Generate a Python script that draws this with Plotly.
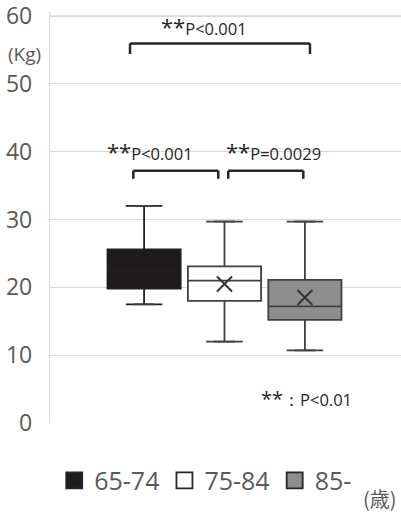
import plotly.graph_objects as go

groups = ["65-74", "75-84", "85-"]
upper_fence = [32.0, 29.7, 29.7]
q3_vals = [25.6, 23.1, 21.1]
median_vals = [22.5, 21.0, 17.2]
q1_vals = [19.8, 18.0, 15.2]
lower_fence = [17.5, 12.0, 10.7]
mean_vals = [22.8, 20.5, 18.5]
fill_colors = ["#1f1b1c", "#ffffff", "#8e8e8e"]
line_colors = ["#232021", "#404040", "#404040"]
y_ticks = [0, 10, 20, 30, 40, 50, 60]

FONT = "Open Sans"
TXT = "#262626"
AX = "#595959"
GRID = "#d9d9d9"

fig = go.Figure()
positions = list(range(len(groups)))

for i, g in enumerate(groups):
    fig.add_trace(go.Box(
        x=[positions[i]], q1=[q1_vals[i]], median=[median_vals[i]], q3=[q3_vals[i]],
        lowerfence=[lower_fence[i]], upperfence=[upper_fence[i]],
        width=0.91, fillcolor=fill_colors[i],
        line=dict(color=line_colors[i], width=1.8),
        showlegend=False, hoverinfo="skip", name=g,
    ))

# whisker caps
cap_half = 0.13
cx, cy = [], []
for i in positions:
    for v in (upper_fence[i], lower_fence[i]):
        cx += [i - cap_half, i + cap_half, None]
        cy += [v, v, None]
fig.add_trace(go.Scatter(x=cx, y=cy, mode="lines", line=dict(color="#404040", width=1.8),
                         showlegend=False, hoverinfo="skip"))

# mean markers
fig.add_trace(go.Scatter(x=positions, y=mean_vals, mode="markers",
                         marker=dict(symbol="x-thin", size=15,
                                     line=dict(color=["#1f1b1c", "#333333", "#333333"], width=2)),
                         showlegend=False, hoverinfo="skip"))

# legend entries
for i, g in enumerate(groups):
    fig.add_trace(go.Scatter(x=[None], y=[None], mode="markers", name=g,
                             marker=dict(symbol="square", size=16, color=fill_colors[i],
                                         line=dict(color="#262626", width=1.8))))

# top gridline (fallback)
fig.add_shape(type="line", xref="paper", yref="y", x0=0, x1=1, y0=y_ticks[-1], y1=y_ticks[-1],
              line=dict(color=GRID, width=1.3), layer="below")

# significance brackets
br = dict(type="line", xref="x", yref="y", line=dict(color=TXT, width=2.5))
def bracket(x0, x1, yh, yl):
    fig.add_shape(x0=x0, x1=x1, y0=yh, y1=yh, **br)
    fig.add_shape(x0=x0, x1=x0, y0=yh, y1=yl, **br)
    fig.add_shape(x0=x1, x1=x1, y0=yh, y1=yl, **br)

bracket(-0.175, 2.063, 55.95, 54.4)
bracket(-0.134, 0.923, 37.2, 36.0)
bracket(1.047, 1.98, 37.2, 36.0)

def sig(x, y, p):
    fig.add_annotation(x=x, y=y, xref="x", yref="y", xanchor="left", yanchor="bottom",
                       text="**<span style='font-size:16.5px'>" + p + "</span>",
                       showarrow=False, font=dict(family=FONT, size=22, color=TXT))

sig(0.19, 56.0, "P&lt;0.001")
sig(-0.48, 37.6, "P&lt;0.001")
sig(1.00, 37.6, "P=0.0029")

fig.add_annotation(x=1.43, y=1.3, xref="x", yref="y", xanchor="left", yanchor="bottom",
                   text="**<span style='font-size:16.5px'>：P&lt;0.01</span>",
                   showarrow=False, font=dict(family=FONT, size=20, color=TXT))

fig.add_annotation(x=-0.074, y=54.4, xref="paper", yref="y", xanchor="center", yanchor="middle",
                   text="(Kg)", showarrow=False, font=dict(family=FONT, size=19, color=AX))
fig.add_annotation(x=0.94, y=-0.183, xref="paper", yref="paper", xanchor="center", yanchor="middle",
                   text="(歳)", showarrow=False,
                   font=dict(family="Noto Sans CJK JP", size=20, color=AX))

fig.update_layout(
    width=401, height=513,
    margin=dict(l=50, r=0, t=12, b=90, autoexpand=False),
    paper_bgcolor="white", plot_bgcolor="white",
    boxmode="overlay",
    font=dict(family=FONT, color=AX),
    xaxis=dict(range=[-1.17, 3.195], showticklabels=False, showgrid=False, zeroline=False,
               showline=False, fixedrange=True),
    yaxis=dict(range=[-0.001, 60.59], tickmode="array", tickvals=y_ticks,
               ticktext=[str(v) for v in y_ticks], ticklabeloverflow="allow",
               showgrid=True, gridcolor=GRID, gridwidth=1.3,
               zeroline=False, showline=True, linecolor=GRID, linewidth=1.3,
               tickfont=dict(family=FONT, size=23, color=AX), ticklabelstandoff=12),
    legend=dict(orientation="h", x=0.012, xanchor="left", y=-0.14, yanchor="middle",
                font=dict(family=FONT, size=25, color=AX), itemclick=False, bgcolor="rgba(0,0,0,0)"),
    showlegend=True,
)

fig.write_html("out.html", config={"displayModeBar": False},
               post_script="document.body.style.margin='0';document.body.style.overflow='hidden';")
